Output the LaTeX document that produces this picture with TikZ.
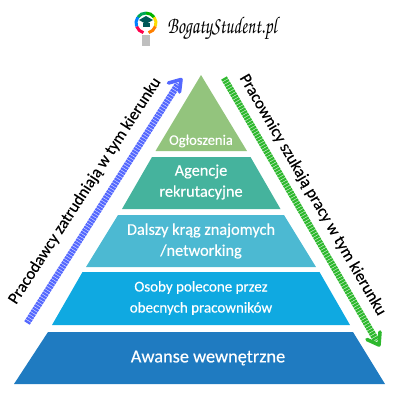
\documentclass[tikz,border=0pt]{standalone}
\usepackage{fontspec}
\setmainfont{Carlito}
\newfontfamily\heavyfont[FakeBold=0.35]{Carlito}
\usetikzlibrary{calc, arrows.meta, positioning}

\definecolor{tierone}{HTML}{93C47D}
\definecolor{tiertwo}{HTML}{45B39D}
\definecolor{tierthree}{HTML}{4CB9D2}
\definecolor{tierfour}{HTML}{0FA9E1}
\definecolor{tierfive}{HTML}{1F7BC1}
\definecolor{arrowblue}{HTML}{5468FF}
\definecolor{arrowgreen}{HTML}{2EB82E}

\tikzset{
    tierlabel/.style={text=white, align=center, font=\heavyfont\fontsize{16.3}{21}\selectfont},
    sidelabel/.style={text=black, font=\heavyfont\fontsize{16.5}{20}\selectfont},
    stripeline/.style={line width=6.5pt, dash pattern=on 2.3pt off 0.7pt},
    headline/.style={line width=3.6pt, line cap=round, line join=round},
}

\begin{document}
\begin{tikzpicture}[x=1pt, y=-1pt]

    \useasboundingbox (0,0) rectangle (400,400);

    % ==========================================
    % 1. PYRAMID
    % ==========================================
    \fill[tierone] (201,75) -- (247,151) -- (155.5,151) -- cycle;
    \fill[tiertwo] (152,157) -- (250.5,157) -- (280.5,209) -- (122,209) -- cycle;
    \fill[tierthree] (118,215) -- (284,215) -- (316,267) -- (86,267) -- cycle;
    \fill[tierfour] (82.5,272) -- (319.5,272) -- (350,325) -- (52,325) -- cycle;
    \fill[tierfive] (48,332) -- (353,332) -- (385,384) -- (14,384) -- cycle;

    \node[tierlabel, font=\heavyfont\fontsize{14.5}{16}\selectfont] (ogloszenia) at (201,141) {Ogłoszenia};
    \node[tierlabel] (agencje) at (201,182) {Agencje\\rekrutacyjne};
    \node[tierlabel] (dalszy) at (201,241) {Dalszy krąg znajomych\\/networking};
    \node[tierlabel, font=\heavyfont\fontsize{15}{21}\selectfont] (polecone) at (201,298) {Osoby polecone przez\\obecnych pracowników};
    \node[tierlabel, font=\heavyfont\fontsize{18.3}{20}\selectfont] (awanse) at (208,358) {Awanse wewnętrzne};

    % ==========================================
    % 2. SIDE ARROWS
    % ==========================================
    \coordinate (blueend) at (27,323);
    \coordinate (bluetip) at (181,79.5);
    \coordinate (greenend) at (224,78);
    \coordinate (greentip) at (379,345);

    \draw[stripeline, arrowblue] (blueend) -- ($(bluetip)!5pt!(blueend)$);
    \draw[headline, arrowblue] (168.5,83) -- (bluetip) -- (179.5,92);
    \draw[stripeline, arrowgreen] (greenend) -- ($(greentip)!5pt!(greenend)$);
    \draw[headline, arrowgreen] (367,339.5) -- (greentip) -- (380,332);

    \node[sidelabel, rotate=57] (pracodawcy) at (85,191) {Pracodawcy zatrudniają w tym kierunku};
    \node[sidelabel, rotate=-59.8] (pracownicy) at (312.5,195) {Pracownicy szukają pracy w tym kierunku};

    % ==========================================
    % 3. LOGO
    % ==========================================
    \foreach \startang/\logocolor in {90/teal!70!green, 35/green!70!black, -20/yellow!80!orange, -75/orange, 200/red!70!magenta, 145/blue!50!cyan}
        \draw[\logocolor, line width=3pt] ([shift={(146,23)}]\startang:10pt) arc[start angle=\startang, delta angle=55, radius=10pt];
    \fill[gray!50] (142,35) rectangle (150,46);
    \fill[teal!70!black] (146,16) -- (153,20) -- (146,24) -- (139,20) -- cycle;
    \fill[teal!70!black] (142.5,23) rectangle (149.5,27);

    \node[xscale=0.73, inner sep=0pt] (logotext) at (222,29) {\fontsize{24}{28}\usefont{T1}{pzc}{mb}{it}BogatyStudent.pl};

\end{tikzpicture}
\end{document}
